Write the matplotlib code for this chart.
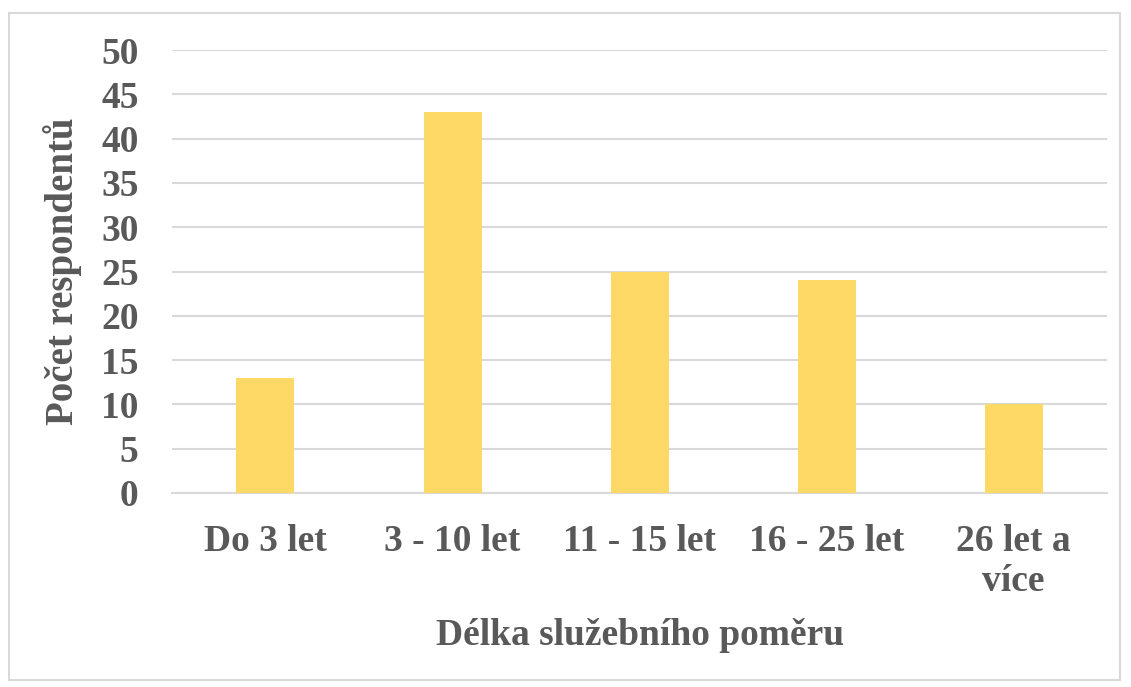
import matplotlib
matplotlib.use("Agg")
import matplotlib.pyplot as plt
from matplotlib.patches import Rectangle

categories = ["Do 3 let", "3 - 10 let", "11 - 15 let", "16 - 25 let", "26 let a\nvíce"]
counts = [13, 43, 25, 24, 10]
yticks = [0, 5, 10, 15, 20, 25, 30, 35, 40, 45, 50]

text_color = "#595959"
plt.rcParams["font.family"] = ["Liberation Serif", "DejaVu Serif"]
plt.rcParams["font.weight"] = "bold"

fig = plt.figure(figsize=(11.31, 6.87), dpi=100)
ax = fig.add_axes([0.152, 0.2824, 0.827, 0.6448])

x = range(len(categories))
ax.bar(x, counts, width=0.31, color="#FFD966", zorder=3)

ax.set_xlim(-0.5, len(categories) - 0.5)
ax.set_ylim(0, 50)
ax.set_yticks(yticks)
ax.set_xticks(list(x))
ax.set_xticklabels(categories, linespacing=1.2)
ax.grid(axis="y", color="#D9D9D9", linewidth=1.5, zorder=0)
for s in ["top", "right", "left"]:
    ax.spines[s].set_visible(False)
ax.spines["bottom"].set_color("#D9D9D9")
ax.spines["bottom"].set_linewidth(1.5)
ax.tick_params(axis="both", length=0, labelsize=27, colors=text_color)
ax.tick_params(axis="x", pad=22)
ax.tick_params(axis="y", pad=24)
for lbl in ax.get_xticklabels() + ax.get_yticklabels():
    lbl.set_fontweight("bold")

ax.set_xlabel("Délka služebního poměru", fontsize=27, fontweight="bold",
              color=text_color, labelpad=14)
ax.set_ylabel("Počet respondentů", fontsize=28, fontweight="bold",
              color=text_color, labelpad=14)

fig.patches.append(Rectangle((9 / 1131, 1 - 680 / 687), 1111 / 1131, 667 / 687,
                             transform=fig.transFigure, fill=False,
                             edgecolor="#D9D9D9", linewidth=1.5))

fig.savefig("out.png", dpi=100)
